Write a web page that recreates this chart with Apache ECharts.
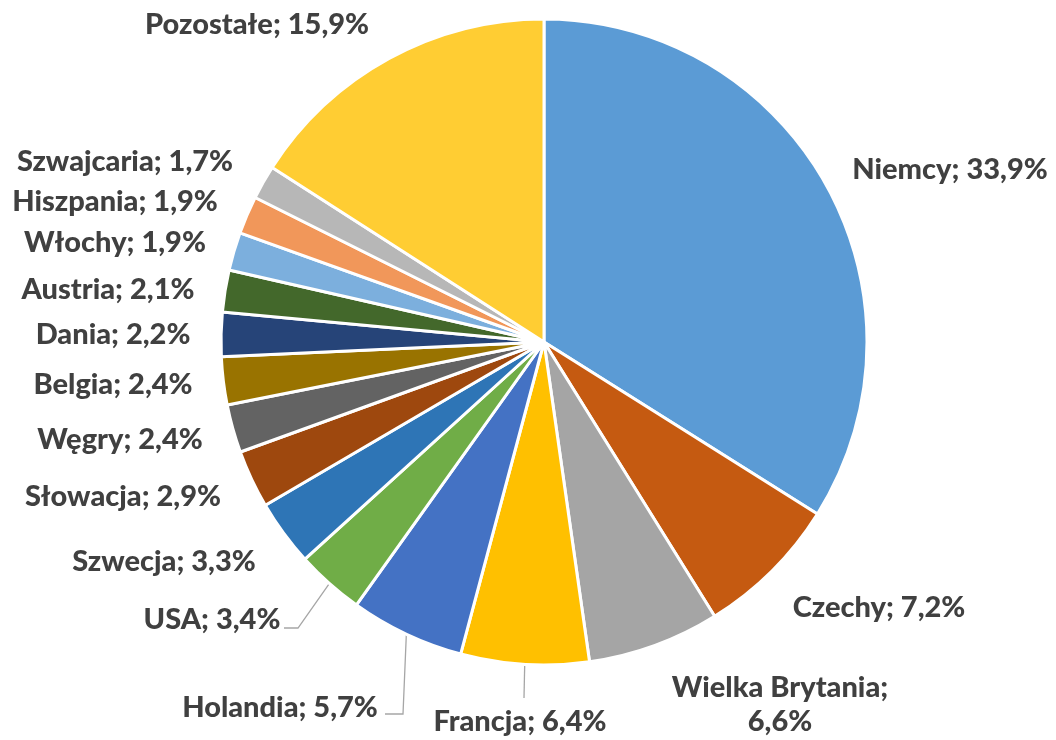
<!DOCTYPE html>
<html>
<head>
<meta charset="utf-8">
<script src="https://cdn.jsdelivr.net/npm/echarts@6/dist/echarts.min.js"></script>
<style>
html,body{margin:0;padding:0;background:#fff;}
#chart{width:1056px;height:740px;}
</style>
</head>
<body>
<div id="chart"></div>
<script>
// Data
const categories = ["Niemcy","Czechy","Wielka Brytania","Francja","Holandia","USA","Szwecja","Słowacja","Węgry","Belgia","Dania","Austria","Włochy","Hiszpania","Szwajcaria","Pozostałe"];
const shares = [33.9,7.2,6.6,6.4,5.7,3.4,3.3,2.9,2.4,2.4,2.2,2.1,1.9,1.9,1.7,15.9];
const colors = ["#5B9BD5","#C55A11","#A5A5A5","#FFC000","#4472C4","#70AD47","#2E75B6","#9E480E","#636363","#997300","#264478","#43682B","#7CAFDD","#F1975A","#B7B7B7","#FFCD33"];

// Label placement (layout only)
const labelPos = [
  [950,170],[879,608],[780,705],[520,722],[280,708],[212,620],[164,562],[123,497],
  [120,440],[113,385],[113,335],[108,290],[115,243],[115,202],[125,162],[257,25]
];
// leader-line bends for labels that have a connector (dataIndex -> extra points)
const leaderBends = {
  3: [[524,698]],
  4: [[403,714],[385,714]],
  5: [[298,628],[284,628]]
};

const fmt = v => v.toFixed(1).replace('.', ',') + '%';

const chart = echarts.init(document.getElementById('chart'), null, {renderer:'canvas'});
chart.setOption({
  animation:false,
  backgroundColor:'#fff',
  series:[{
    type:'pie',
    center:[544,342],
    radius:[0,323],
    startAngle:90,
    clockwise:true,
    avoidLabelOverlap:false,
    itemStyle:{borderColor:'#fff',borderWidth:3},
    label:{
      show:true,
      position:'outside',
      color:'#404040',
      fontFamily:'Lato',
      fontWeight:900,
      fontSize:29,
      lineHeight:34,
      align:'center',
      formatter: p => p.name === 'Wielka Brytania' ? 'Wielka Brytania;\n' + fmt(p.value) : p.name + '; ' + fmt(p.value)
    },
    labelLine:{show:false,lineStyle:{color:'#A6A6A6',width:1.3}},
    data: categories.map((c,i)=>({
      name:c, value:shares[i], itemStyle:{color:colors[i]},
      labelLine:{show: !!leaderBends[i]}
    })),
    labelLayout: function(params){
      const i = params.dataIndex;
      const out = {x:labelPos[i][0], y:labelPos[i][1], align:'center', verticalAlign:'middle'};
      if (leaderBends[i] && params.labelLinePoints) {
        const p0 = params.labelLinePoints[0];
        const pts = [p0].concat(leaderBends[i]);
        if (pts.length === 2) pts.push(leaderBends[i][0]);
        out.labelLinePoints = pts;
      }
      return out;
    }
  }]
});
</script>
</body>
</html>
